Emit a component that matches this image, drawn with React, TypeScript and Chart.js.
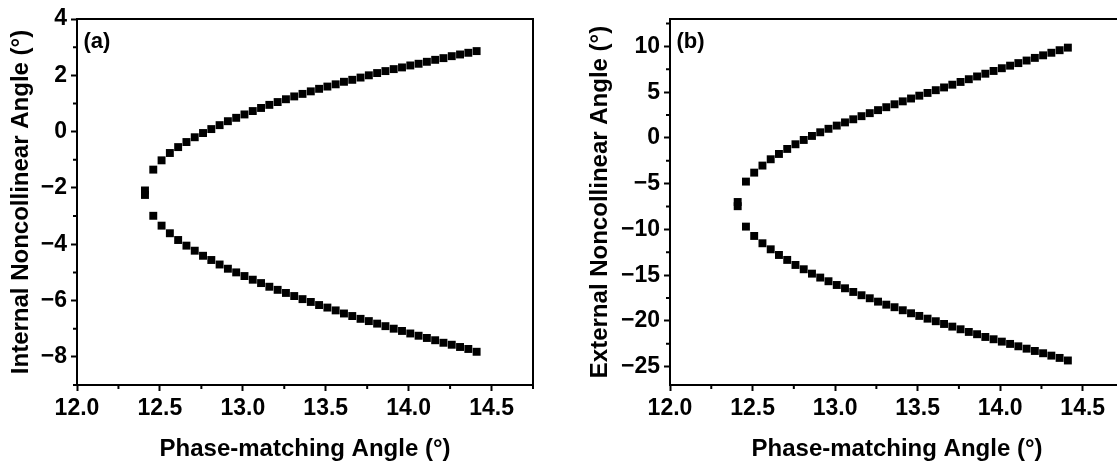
import React, { useEffect, useRef } from 'react';
import { Chart, registerables } from 'chart.js';

Chart.register(...registerables);

// Phase-matching angle (deg); first entry is the turning point shared by both branches
const phaseAngle = [
  12.41, 12.46, 12.51, 12.56, 12.61, 12.66, 12.71, 12.76, 12.81, 12.86, 12.91,
  12.96, 13.01, 13.06, 13.11, 13.16, 13.21, 13.26, 13.31, 13.36, 13.41, 13.46,
  13.51, 13.56, 13.61, 13.66, 13.71, 13.76, 13.81, 13.86, 13.91, 13.96, 14.01,
  14.06, 14.11, 14.16, 14.21, 14.26, 14.31, 14.36, 14.41,
];

// (a) Internal noncollinear angle (deg)
const internalUpper = [
  -2.09, -1.35, -1.02, -0.76, -0.55, -0.37, -0.2, -0.05, 0.09, 0.23, 0.37,
  0.49, 0.61, 0.73, 0.84, 0.95, 1.05, 1.15, 1.25, 1.34, 1.43, 1.52,
  1.6, 1.68, 1.77, 1.84, 1.92, 2.0, 2.08, 2.15, 2.22, 2.28, 2.35,
  2.41, 2.48, 2.55, 2.61, 2.68, 2.74, 2.8, 2.86,
];
const internalLower = [
  -2.25, -2.99, -3.34, -3.61, -3.85, -4.05, -4.23, -4.41, -4.56, -4.72, -4.87,
  -5.0, -5.13, -5.26, -5.38, -5.51, -5.62, -5.73, -5.84, -5.95, -6.05, -6.16,
  -6.25, -6.35, -6.46, -6.55, -6.65, -6.73, -6.82, -6.91, -7.0, -7.08, -7.17,
  -7.25, -7.33, -7.41, -7.5, -7.57, -7.65, -7.72, -7.82,
];

// (b) External noncollinear angle (deg)
const externalUpper = [
  -7.0, -4.77, -3.79, -3.02, -2.33, -1.75, -1.2, -0.69, -0.22, 0.22, 0.62,
  1.0, 1.35, 1.7, 2.04, 2.38, 2.71, 3.04, 3.36, 3.68, 4.0, 4.31,
  4.62, 4.92, 5.22, 5.52, 5.82, 6.12, 6.42, 6.72, 7.02, 7.32, 7.62,
  7.9, 8.18, 8.46, 8.75, 9.03, 9.31, 9.59, 9.87,
];
const externalLower = [
  -7.46, -9.69, -10.71, -11.51, -12.17, -12.79, -13.33, -13.88, -14.35, -14.83, -15.26,
  -15.66, -16.07, -16.43, -16.83, -17.19, -17.52, -17.89, -18.22, -18.5, -18.83, -19.16,
  -19.45, -19.75, -20.03, -20.33, -20.62, -20.91, -21.2, -21.45, -21.75, -22.0, -22.26,
  -22.51, -22.77, -23.03, -23.28, -23.53, -23.79, -24.04, -24.32,
];

// Tick values
const xTicks = [12.0, 12.5, 13.0, 13.5, 14.0, 14.5];
const xMinorTicks = [12.25, 12.75, 13.25, 13.75, 14.25, 14.75];
const yTicksA = [-8, -6, -4, -2, 0, 2, 4];
const yMinorTicksA = [-9, -7, -5, -3, -1, 1, 3];
const yTicksB = [-25, -20, -15, -10, -5, 0, 5, 10];
const yMinorTicksB = [-22.5, -17.5, -12.5, -7.5, -2.5, 2.5, 7.5, 12.5];

const FONT = "'Liberation Sans', Arial, Helvetica, sans-serif";

const framePlugin = {
  id: 'frameMinor',
  afterDraw(chart: any, _args: any, opts: any) {
    const { ctx, chartArea, scales } = chart;
    const { left, right, top, bottom } = chartArea;
    ctx.save();
    ctx.strokeStyle = '#000';
    ctx.lineWidth = 2;
    ctx.beginPath();
    ctx.moveTo(left - 1, top);
    ctx.lineTo(right, top);
    ctx.lineTo(right, bottom + 1);
    ctx.stroke();
    ctx.beginPath();
    (opts.xMinor || []).forEach((v: number) => {
      const px = scales.x.getPixelForValue(v);
      ctx.moveTo(px, bottom);
      ctx.lineTo(px, bottom + 4);
    });
    (opts.yMinor || []).forEach((v: number) => {
      const py = scales.y.getPixelForValue(v);
      ctx.moveTo(left, py);
      ctx.lineTo(left - 4, py);
    });
    ctx.stroke();
    if (opts.label) {
      ctx.fillStyle = '#000';
      ctx.font = `bold 22px ${FONT}`;
      ctx.textBaseline = 'alphabetic';
      ctx.textAlign = 'left';
      ctx.fillText(opts.label, left + 6.5, top + 29);
    }
    ctx.restore();
  },
};

type PanelProps = {
  left: number;
  width: number;
  yAxisWidth: number;
  yTitlePad: number;
  yMin: number;
  yMax: number;
  yTicks: number[];
  yMinor: number[];
  upper: number[];
  lower: number[];
  yTitle: string;
  label: string;
};

function Panel(p: PanelProps) {
  const ref = useRef<HTMLCanvasElement | null>(null);
  useEffect(() => {
    if (!ref.current) return;
    const pointStyle = {
      showLine: false,
      pointStyle: 'rect' as const,
      pointRadius: 5.6,
      pointBorderWidth: 0,
      pointBackgroundColor: '#000',
      backgroundColor: '#000',
      borderColor: '#000',
    };
    const chart = new Chart(ref.current, {
      type: 'scatter',
      data: {
        datasets: [
          { data: phaseAngle.map((x, i) => ({ x, y: p.upper[i] })), ...pointStyle },
          { data: phaseAngle.map((x, i) => ({ x, y: p.lower[i] })), ...pointStyle },
        ],
      },
      options: {
        animation: false,
        responsive: false,
        events: [],
        layout: { padding: { top: 19, right: 12, bottom: 0, left: 0 } },
        plugins: {
          legend: { display: false },
          tooltip: { enabled: false },
          frameMinor: { xMinor: xMinorTicks, yMinor: p.yMinor, label: p.label },
        } as any,
        scales: {
          x: {
            type: 'linear',
            min: 12,
            max: 14.75,
            afterBuildTicks: (s: any) => {
              s.ticks = xTicks.map((v) => ({ value: v }));
            },
            afterFit: (s: any) => {
              s.height = 76;
            },
            border: { display: true, color: '#000', width: 2 },
            grid: {
              drawOnChartArea: false,
              drawTicks: true,
              tickLength: 6,
              tickWidth: 2,
              tickColor: '#000',
            },
            ticks: {
              color: '#000',
              padding: 4,
              maxRotation: 0,
              autoSkip: false,
              font: { family: FONT, weight: 'bold', size: 23 },
              callback: (v: any) => Number(v).toFixed(1),
            },
            title: {
              display: true,
              text: 'Phase-matching Angle (°)',
              color: '#000',
              font: { family: FONT, weight: 'bold', size: 24, lineHeight: 1 },
              padding: { top: 0, bottom: 0 },
            },
          },
          y: {
            type: 'linear',
            min: p.yMin,
            max: p.yMax,
            afterBuildTicks: (s: any) => {
              s.ticks = p.yTicks.map((v) => ({ value: v }));
            },
            afterFit: (s: any) => {
              s.width = p.yAxisWidth;
            },
            border: { display: true, color: '#000', width: 2 },
            grid: {
              drawOnChartArea: false,
              drawTicks: true,
              tickLength: 6,
              tickWidth: 2,
              tickColor: '#000',
            },
            ticks: {
              color: '#000',
              padding: 4,
              autoSkip: false,
              font: { family: FONT, weight: 'bold', size: 23 },
              callback: (v: any) => String(v).replace('-', '\u2212'),
            },
            title: {
              display: true,
              text: p.yTitle,
              color: '#000',
              font: { family: FONT, weight: 'bold', size: 24, lineHeight: 1 },
              padding: { top: p.yTitlePad, bottom: 0 },
            },
          },
        },
      },
      plugins: [framePlugin],
    } as any);
    return () => chart.destroy();
  }, []);
  return (
    <canvas
      ref={ref}
      width={p.width}
      height={461}
      style={{ position: 'absolute', left: p.left, top: 0, width: p.width, height: 461 }}
    />
  );
}

export default function App() {
  return (
    <div
      style={{
        position: 'fixed',
        left: 0,
        top: 0,
        width: 1117,
        height: 461,
        overflow: 'hidden',
        background: '#fff',
      }}
    >
      <Panel
        left={0}
        width={545}
        yAxisWidth={77}
        yTitlePad={9}
        yMin={-9}
        yMax={4}
        yTicks={yTicksA}
        yMinor={yMinorTicksA}
        upper={internalUpper}
        lower={internalLower}
        yTitle="Internal Noncollinear Angle (°)"
        label="(a)"
      />
      <Panel
        left={560}
        width={576}
        yAxisWidth={110}
        yTitlePad={28}
        yMin={-27}
        yMax={13}
        yTicks={yTicksB}
        yMinor={yMinorTicksB}
        upper={externalUpper}
        lower={externalLower}
        yTitle="External Noncollinear Angle (°)"
        label="(b)"
      />
    </div>
  );
}
